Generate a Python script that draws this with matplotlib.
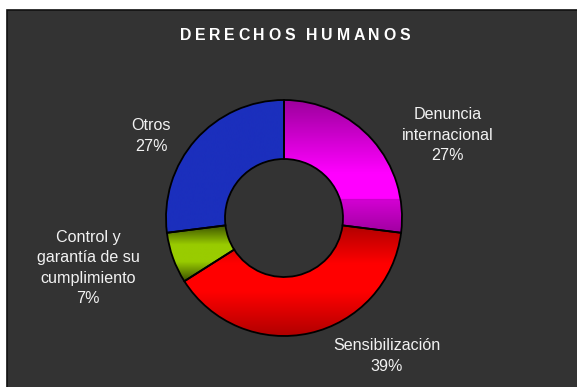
import numpy as np
import matplotlib
matplotlib.use("Agg")
import matplotlib.pyplot as plt
from matplotlib.patches import Rectangle, Wedge
from matplotlib.colors import to_rgb

# Distribution of actions (percent)
categories = ["Denuncia\ninternacional", "Sensibilización",
              "Control y\ngarantía de su\ncumplimiento", "Otros"]
values = [27, 39, 7, 27]
title = "DERECHOS HUMANOS"

W, H = 577, 387
CX, CY = 284, H - 218
R_OUT, R_IN = 118, 59

# vertical gradient stops per slice: (fraction from top, colour)
gradients = [
    [(0.0, "#9c009c"), (0.55, "#ff00ff"), (0.745, "#ff00ff"),
     (0.745, "#b400b4"), (0.755, "#d200d2"), (1.0, "#a000a0")],
    [(0.0, "#b00000"), (0.35, "#ff0000"), (0.6, "#ff0000"), (1.0, "#b00000")],
    [(0.0, "#3c5200"), (0.35, "#99cc00"), (0.65, "#99cc00"), (1.0, "#3c5200")],
    [(0.0, "#1b2fbd"), (1.0, "#1b2fbd")],
]

plt.rcParams['font.family'] = ['Liberation Sans', 'DejaVu Sans']

fig = plt.figure(figsize=(W / 100, H / 100), dpi=100, facecolor="white")
ax = fig.add_axes([0, 0, 1, 1])
ax.set_xlim(0, W)
ax.set_ylim(0, H)
ax.axis("off")

# dark panel (only its top and left edges fall inside the figure)
ax.add_patch(Rectangle((7, -20), W + 20, H - 10 + 20, facecolor="#333333",
                       edgecolor="#111111", linewidth=1.2, zorder=0))

wedges, _ = ax.pie(values, startangle=90, counterclock=False,
                   center=(CX, CY), radius=R_OUT,
                   wedgeprops=dict(width=R_OUT - R_IN, linewidth=0))
ax.set_xlim(0, W)
ax.set_ylim(0, H)
ax.set_aspect("equal")


def fill_gradient(w, stops):
    th = np.radians(np.linspace(w.theta1, w.theta2, 200))
    ys = np.concatenate([CY + R_OUT * np.sin(th), CY + R_IN * np.sin(th)])
    xs = np.concatenate([CX + R_OUT * np.cos(th), CX + R_IN * np.cos(th)])
    top, bot = ys.max(), ys.min()
    n = 400
    f = np.linspace(0, 1, n)  # 0 = top
    pos = [s[0] for s in stops]
    cols = np.array([to_rgb(s[1]) for s in stops])
    img = np.zeros((n, 1, 3))
    for k in range(3):
        img[:, 0, k] = np.interp(f, pos, cols[:, k])
    im = ax.imshow(img, extent=(xs.min(), xs.max(), bot, top),
                   origin="upper", aspect="auto", zorder=2,
                   interpolation="bilinear")
    im.set_clip_path(w)


for w, g in zip(wedges, gradients):
    fill_gradient(w, g)
    ax.add_patch(Wedge((CX, CY), R_OUT, w.theta1, w.theta2, width=R_OUT - R_IN,
                       fill=False, edgecolor="black", linewidth=1.3, zorder=3))

# slice labels
label_pos = [(448, 135), (387, 356), (88, 268), (151, 136)]
for (lx, ly), name, v in zip(label_pos, categories, values):
    ax.text(lx, H - ly, f"{name}\n{v}%", color="#f2f2f2", fontsize=11.6,
            ha="center", va="center", linespacing=1.42, multialignment="center")

# letter-spaced title
renderer = fig.canvas.get_renderer()
size, track = 11.4, 3.6
widths = []
for ch in title:
    t = ax.text(0, 0, ch if ch != " " else "a", fontsize=size, fontweight="bold")
    wpx = t.get_window_extent(renderer).width
    if ch == " ":
        wpx *= 0.5
    widths.append(wpx)
    t.remove()
total = sum(widths) + track * (len(title) - 1)
x = 295 - total / 2
for ch, wpx in zip(title, widths):
    if ch != " ":
        ax.text(x, H - 35, ch, fontsize=size, fontweight="bold", color="white",
                ha="left", va="center")
    x += wpx + track

fig.savefig("out.png", dpi=100, facecolor="white")
